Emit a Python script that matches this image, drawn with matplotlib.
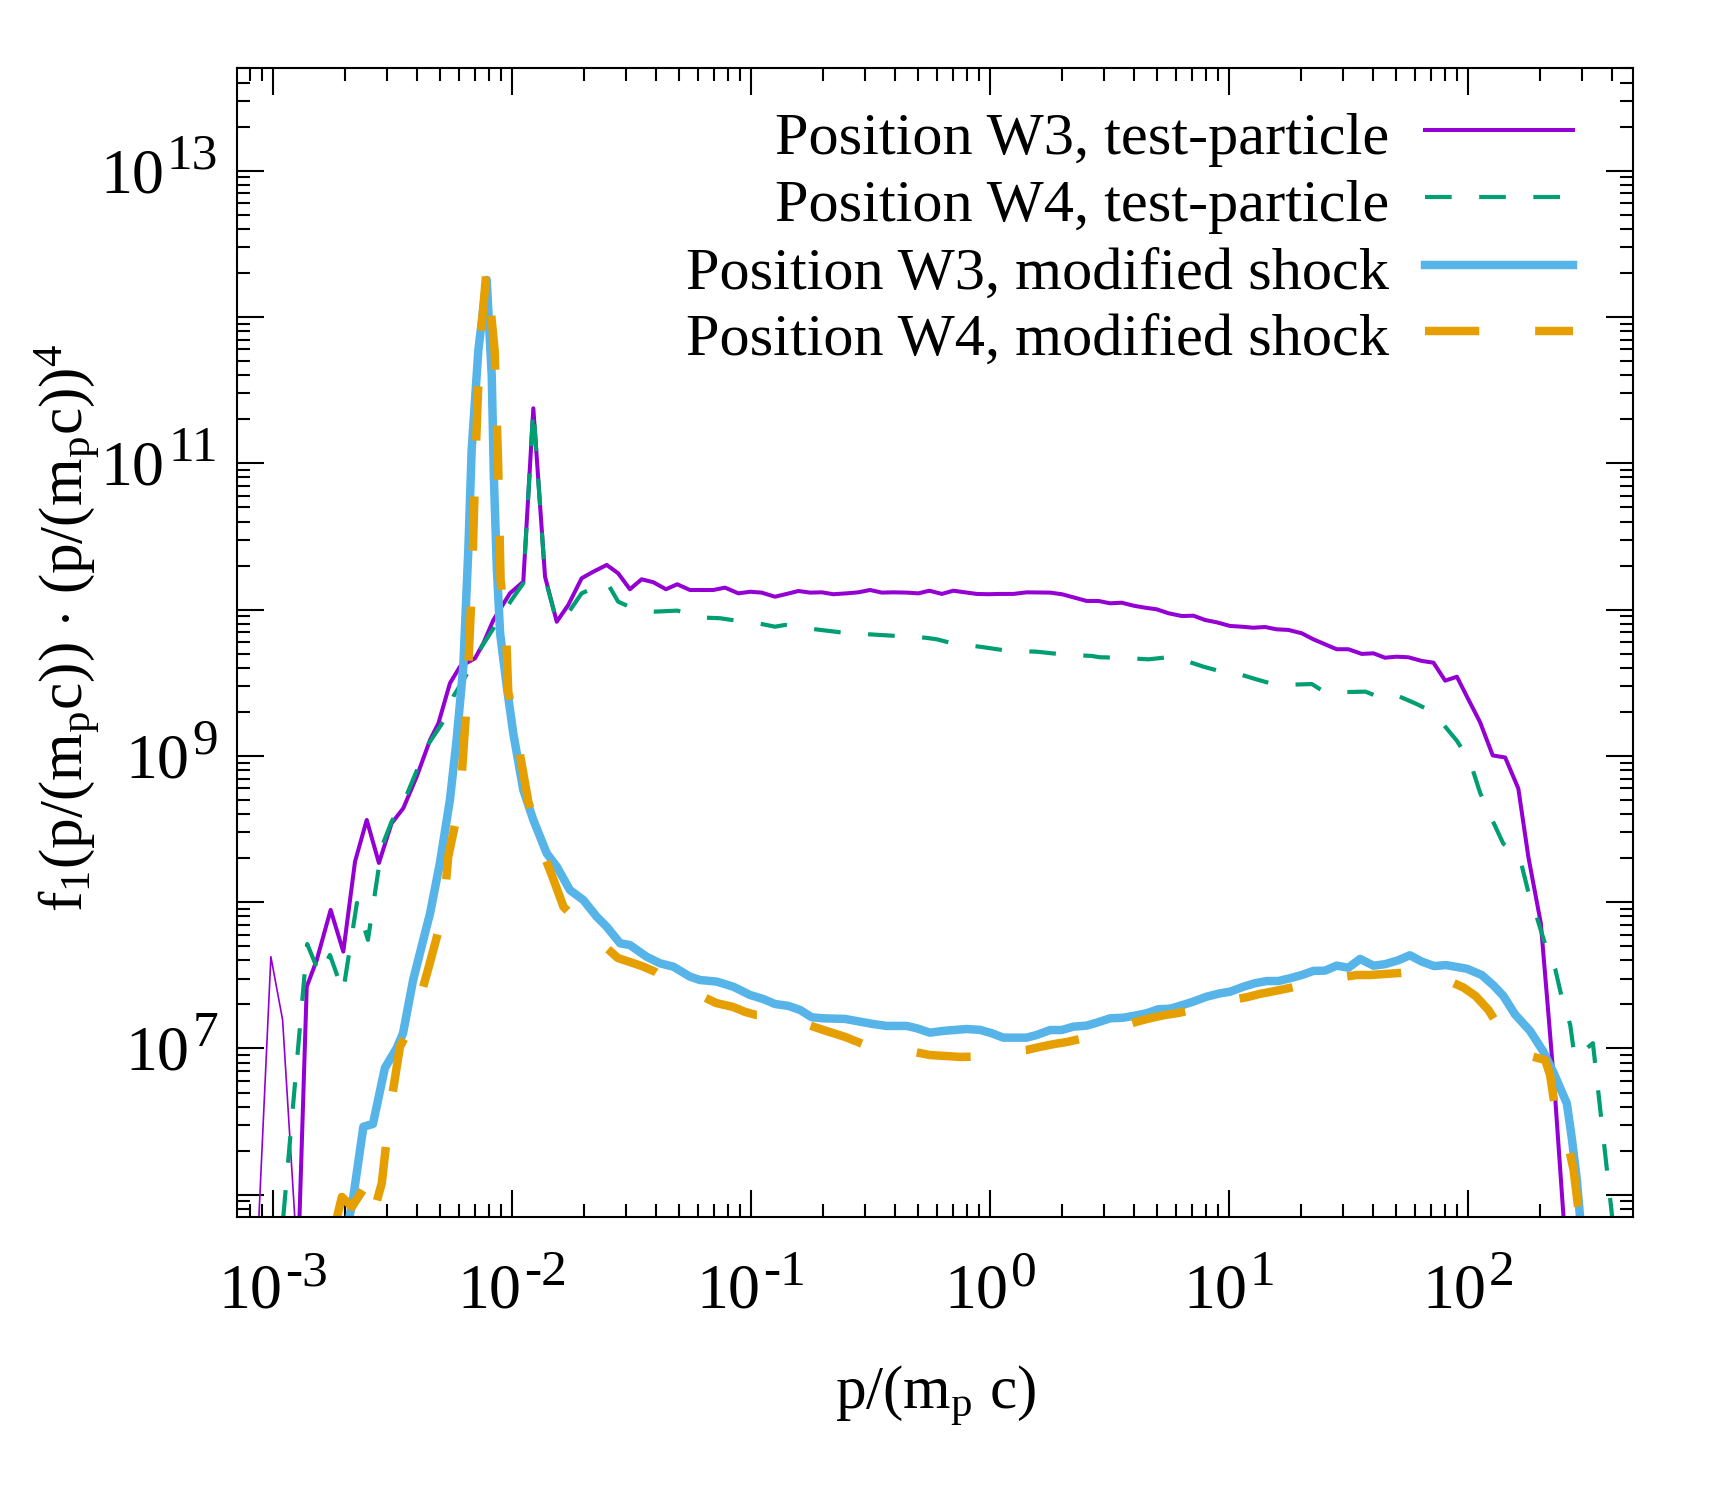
import numpy as np
import matplotlib
matplotlib.use('Agg')
import matplotlib.pyplot as plt
from matplotlib.lines import Line2D
from matplotlib.ticker import FixedLocator, LogLocator, NullFormatter

plt.rcParams['font.family'] = ['Liberation Serif', 'DejaVu Serif']
plt.rcParams['mathtext.fontset'] = 'custom'
plt.rcParams['mathtext.rm'] = 'Liberation Serif'
plt.rcParams['mathtext.it'] = 'Liberation Serif:italic'
plt.rcParams['mathtext.bf'] = 'Liberation Serif:bold'

# values, as log10(p/(m_p c)) and log10(f1 * p^4)
w3_tp_logp = [-3.07, -3.010, -2.961, -2.897, -2.860, -2.818, -2.760, -2.707, -2.658, -2.609,
              -2.558, -2.505, -2.456, -2.400, -2.344, -2.309, -2.261, -2.219, -2.156, -2.121,
              -2.079, -2.010, -1.954, -1.912, -1.863, -1.814, -1.766, -1.710, -1.661, -1.605,
              -1.557, -1.508, -1.459, -1.410, -1.357, -1.310, -1.257, -1.159, -1.110, -1.054,
              -1.004, -0.957, -0.901, -0.852, -0.803, -0.754, -0.705, -0.657, -0.601, -0.552,
              -0.503, -0.454, -0.406, -0.350, -0.301, -0.255, -0.203, -0.155, -0.106, -0.057,
              -0.008, 0.040, 0.096, 0.153, 0.250, 0.299, 0.347, 0.403, 0.452, 0.501,
              0.550, 0.598, 0.647, 0.696, 0.745, 0.801, 0.850, 0.898, 0.947, 1.003,
              1.052, 1.100, 1.149, 1.198, 1.247, 1.303, 1.351, 1.400, 1.449, 1.498,
              1.554, 1.603, 1.651, 1.700, 1.749, 1.805, 1.854, 1.903, 1.952, 2.000,
              2.049, 2.102, 2.154, 2.209, 2.251, 2.303, 2.335, 2.363, 2.398, 2.43]
w3_tp_logf = [5.50, 7.627, 7.196, 5.50, 7.422, 7.605, 7.947, 7.662, 8.277, 8.562,
              8.268, 8.539, 8.642, 8.858, 9.109, 9.223, 9.496, 9.610, 9.667, 9.770,
              9.929, 10.111, 10.191, 11.376, 10.225, 9.917, 10.031, 10.214, 10.259, 10.305,
              10.248, 10.139, 10.207, 10.187, 10.139, 10.173, 10.134, 10.134, 10.150, 10.111,
              10.122, 10.116, 10.088, 10.107, 10.127, 10.116, 10.118, 10.105, 10.111, 10.118,
              10.134, 10.116, 10.118, 10.116, 10.111, 10.129, 10.107, 10.129, 10.118, 10.107,
              10.105, 10.107, 10.107, 10.118, 10.116, 10.105, 10.084, 10.059, 10.059, 10.043,
              10.047, 10.027, 10.013, 10.002, 9.975, 9.956, 9.958, 9.929, 9.913, 9.888,
              9.883, 9.876, 9.881, 9.865, 9.861, 9.838, 9.797, 9.763, 9.729, 9.729,
              9.697, 9.701, 9.671, 9.678, 9.674, 9.649, 9.637, 9.514, 9.541, 9.386,
              9.230, 9.003, 8.989, 8.777, 8.309, 7.857, 7.233, 6.667, 5.85, 5.3]
n_thin = 4  # first points of this curve are drawn with a thin pen

w4_tp_logp = [-2.958, -2.858, -2.805, -2.763, -2.708, -2.650, -2.604, -2.545, -2.505, -2.442,
              -2.358, -2.289, -2.247, -2.188, -2.128, -2.079, -2.003, -1.954, -1.912, -1.863,
              -1.814, -1.772, -1.710, -1.605, -1.557, -1.508, -1.459, -1.402, -1.310, -1.257,
              -1.198, -1.131, -1.082, -0.971, -0.901, -0.859, -0.741, -0.629, -0.507, -0.395,
              -0.273, -0.224, -0.161, -0.043, 0.070, 0.195, 0.299, 0.424, 0.459, 0.536,
              0.661, 0.766, 0.891, 0.954, 0.996, 1.113, 1.183, 1.222, 1.345, 1.400,
              1.449, 1.570, 1.611, 1.680, 1.783, 1.825, 1.874, 1.952, 2.007, 2.049,
              2.091, 2.146, 2.202, 2.223, 2.251, 2.286, 2.321, 2.363, 2.391, 2.426,
              2.445, 2.521, 2.617]
w4_tp_logf = [5.85, 7.714, 7.503, 7.639, 7.386, 7.995, 7.742, 8.383, 8.550, 8.732,
              9.063, 9.234, 9.405, 9.565, 9.746, 9.872, 10.066, 10.180, 11.376, 10.215,
              9.917, 9.963, 10.111, 10.189, 10.054, 10.018, 9.997, 9.986, 9.993, 9.970,
              9.945, 9.941, 9.929, 9.906, 9.883, 9.895, 9.867, 9.845, 9.831, 9.820,
              9.808, 9.797, 9.770, 9.746, 9.719, 9.712, 9.694, 9.683, 9.674, 9.671,
              9.660, 9.678, 9.610, 9.582, 9.582, 9.523, 9.491, 9.485, 9.491, 9.435,
              9.435, 9.439, 9.412, 9.428, 9.355, 9.321, 9.257, 9.103, 8.961, 8.748,
              8.593, 8.400, 8.332, 8.253, 8.068, 7.899, 7.714, 7.545, 7.347, 7.162,
              6.935, 7.036, 5.62]

w3_ms_logp = [-2.70, -2.667, -2.623, -2.583, -2.533, -2.484, -2.457, -2.415, -2.378, -2.344,
              -2.303, -2.261, -2.233, -2.205, -2.184, -2.170, -2.142, -2.107, -2.086, -2.077,
              -2.065, -2.051, -2.023, -1.996, -1.954, -1.912, -1.856, -1.814, -1.759, -1.703,
              -1.647, -1.605, -1.549, -1.508, -1.438, -1.382, -1.326, -1.257, -1.215, -1.145,
              -1.075, -1.006, -0.950, -0.901, -0.845, -0.796, -0.747, -0.699, -0.608, -0.545,
              -0.490, -0.434, -0.350, -0.308, -0.253, -0.197, -0.099, -0.043, 0.006, 0.054,
              0.152, 0.194, 0.250, 0.299, 0.347, 0.403, 0.445, 0.501, 0.556, 0.613,
              0.654, 0.703, 0.752, 0.801, 0.849, 0.905, 0.961, 1.003, 1.059, 1.107,
              1.157, 1.205, 1.254, 1.303, 1.351, 1.400, 1.449, 1.498, 1.547, 1.603,
              1.651, 1.707, 1.755, 1.805, 1.857, 1.906, 1.994, 2.056, 2.105, 2.146,
              2.195, 2.258, 2.314, 2.356, 2.412, 2.433, 2.454, 2.467, 2.48]
w3_ms_logf = [5.70, 5.965, 6.465, 6.484, 6.867, 7.001, 7.105, 7.467, 7.707, 7.924,
              8.266, 8.699, 9.109, 9.610, 10.407, 11.091, 11.774, 12.253, 11.6, 10.9,
              10.293, 9.838, 9.473, 9.155, 8.767, 8.562, 8.334, 8.243, 8.083, 8.015,
              7.901, 7.832, 7.719, 7.707, 7.627, 7.582, 7.559, 7.491, 7.468, 7.457,
              7.422, 7.366, 7.338, 7.304, 7.291, 7.263, 7.213, 7.206, 7.202, 7.183,
              7.167, 7.154, 7.154, 7.138, 7.108, 7.120, 7.133, 7.127, 7.104, 7.074,
              7.074, 7.092, 7.126, 7.126, 7.149, 7.156, 7.176, 7.206, 7.210, 7.227,
              7.241, 7.268, 7.272, 7.295, 7.320, 7.354, 7.377, 7.388, 7.422, 7.446,
              7.461, 7.461, 7.480, 7.502, 7.530, 7.532, 7.566, 7.552, 7.612, 7.566,
              7.576, 7.603, 7.637, 7.594, 7.563, 7.570, 7.545, 7.502, 7.431, 7.360,
              7.233, 7.120, 6.978, 6.836, 6.624, 6.383, 6.100, 5.85, 5.55]

w4_ms_logp = [-2.733, -2.713, -2.671, -2.625, -2.591, -2.546, -2.512, -2.470, -2.414, -2.351,
              -2.289, -2.268, -2.219, -2.190, -2.169, -2.154, -2.137, -2.107, -2.074, -2.059,
              -2.049, -2.026, -2.017, -1.975, -1.933, -1.870, -1.830, -1.786, -1.759, -1.710,
              -1.619, -1.558, -1.508, -1.459, -1.403, -1.361, -1.270, -1.208, -1.148, -1.077,
              -1.026, -0.980, -0.908, -0.852, -0.810, -0.762, -0.700, -0.608, -0.534, -0.475,
              -0.406, -0.350, -0.311, -0.253, -0.190, -0.127, -0.071, 0.0, 0.049, 0.103,
              0.152, 0.206, 0.269, 0.323, 0.389, 0.501, 0.613, 0.672, 0.731, 0.785,
              0.843, 0.905, 0.975, 1.072, 1.128, 1.191, 1.254, 1.303, 1.351, 1.407,
              1.470, 1.533, 1.588, 1.651, 1.714, 1.768, 1.803, 1.852, 1.924, 1.979,
              2.030, 2.084, 2.133, 2.188, 2.258, 2.321, 2.342, 2.370, 2.405, 2.440,
              2.476]
w4_ms_logf = [5.85, 5.985, 5.917, 6.033, 5.814, 6.079, 6.580, 7.012, 7.183, 7.548,
              7.924, 8.311, 8.687, 9.382, 10.168, 11.023, 11.774, 12.333, 11.774, 10.988,
              10.202, 9.847, 9.439, 9.075, 8.687, 8.334, 8.165, 7.969, 7.924, 7.856,
              7.707, 7.618, 7.591, 7.564, 7.525, 7.480, 7.422, 7.359, 7.311, 7.284,
              7.250, 7.229, 7.229, 7.183, 7.183, 7.161, 7.127, 7.079, 7.031, 7.012,
              6.985, 6.985, 6.974, 6.955, 6.949, 6.942, 6.944, 6.944, 6.955, 6.985,
              6.990, 7.010, 7.031, 7.045, 7.070, 7.126, 7.183, 7.208, 7.229, 7.242,
              7.263, 7.282, 7.320, 7.350, 7.373, 7.393, 7.414, 7.434, 7.441, 7.473,
              7.487, 7.502, 7.502, 7.509, 7.516, 7.525, 7.532, 7.525, 7.457, 7.417,
              7.359, 7.263, 7.134, 7.063, 6.949, 6.921, 6.818, 6.511, 6.439, 6.171,
              5.69]

labels = ['Position W3, test-particle', 'Position W4, test-particle',
          'Position W3, modified shock', 'Position W4, modified shock']
x_tick_exp = [-3, -2, -1, 0, 1, 2]
y_tick_exp = [6, 7, 8, 9, 10, 11, 12, 13]
y_label_exp = [7, 9, 11, 13]

purple, green, blue, orange = '#9400D3', '#009E73', '#56B4E9', '#E69F00'
W, H = 1725, 1500
FS = 44            # label / legend text size (pt)
TFS, SFS = 46, 37  # tick "10" and its superscript (pt)
GAP = 2            # space between "10" and the superscript (pt)

fig = plt.figure(figsize=(W / 100, H / 100), dpi=100)
ax = fig.add_axes([236.7 / W, 1 - 1216.7 / H, (1633.3 - 236.7) / W, (1216.7 - 68.3) / H])

def P(a):
    return 10 ** np.asarray(a)

ax.plot(P(w3_tp_logp[:n_thin]), P(w3_tp_logf[:n_thin]), color=purple, lw=1.2)
ax.plot(P(w3_tp_logp[n_thin - 1:]), P(w3_tp_logf[n_thin - 1:]), color=purple, lw=2.9)
ax.plot(P(w4_tp_logp), P(w4_tp_logf), color=green, lw=3.0, dashes=(6.4, 6.6))
ax.plot(P(w3_ms_logp), P(w3_ms_logf), color=blue, lw=6.1)
ax.plot(P(w4_ms_logp), P(w4_ms_logf), color=orange, lw=6.1, dashes=(6.4, 6.6))

ax.set_xscale('log')
ax.set_yscale('log')
ax.set_xlim(10 ** -3.153, 10 ** 2.690)
ax.set_ylim(10 ** 5.85, 10 ** 13.70)

ax.xaxis.set_major_locator(FixedLocator([10.0 ** e for e in x_tick_exp]))
ax.yaxis.set_major_locator(FixedLocator([10.0 ** e for e in y_tick_exp]))
ax.xaxis.set_minor_locator(LogLocator(base=10, subs=np.arange(2, 10), numticks=100))
ax.yaxis.set_minor_locator(LogLocator(base=10, subs=np.arange(2, 10), numticks=100))
for axis in (ax.xaxis, ax.yaxis):
    axis.set_major_formatter(NullFormatter())
    axis.set_minor_formatter(NullFormatter())

ax.tick_params(which='both', direction='in', top=True, right=True, width=1.5)
ax.tick_params(which='major', length=19.4)
ax.tick_params(which='minor', length=9.4)
for sp in ax.spines.values():
    sp.set_linewidth(1.5)

# tick labels in gnuplot style: "10" plus a larger superscript with a plain hyphen
def exp_width(s):
    return sum(0.333 if c == '-' else 0.5 for c in s) * SFS

for e in x_tick_exp:
    es = str(e)
    x0 = -(TFS + GAP + exp_width(es)) / 2 + TFS
    kw = dict(xy=(10.0 ** e, 0), xycoords=('data', 'axes fraction'),
              textcoords='offset points', va='baseline', annotation_clip=False)
    ax.annotate('10', xytext=(x0, -65.7), ha='right', fontsize=TFS, **kw)
    ax.annotate(es, xytext=(x0 + GAP, -49.2), ha='left', fontsize=SFS, **kw)

for e in y_label_exp:
    es = str(e)
    kw = dict(xy=(0, 10.0 ** e), xycoords=('axes fraction', 'data'),
              textcoords='offset points', va='baseline', ha='right', annotation_clip=False)
    ax.annotate(es, xytext=(-13.5, 1.9), fontsize=SFS, **kw)
    ax.annotate('10', xytext=(-13.5 - GAP - exp_width(es), -15.5), fontsize=TFS, **kw)

fig.text(935 / W, 1 - 1396 / H, r'p/(m$_\mathrm{p}$ c)', ha='center', va='center', fontsize=FS)
fig.text(68 / W, 1 - 628 / H, r'f$_1$(p/(m$_\mathrm{p}$c)) $\cdot$ (p/(m$_\mathrm{p}$c))$^4$',
         ha='center', va='center', rotation=90, fontsize=FS)

# legend drawn by hand: text right aligned, sample on the right
styles = [dict(color=purple, lw=2.9), dict(color=green, lw=3.0, dashes=(6.4, 6.6)),
          dict(color=blue, lw=6.1), dict(color=orange, lw=6.1, dashes=(6.4, 6.6))]
rows_y = [129.8, 196.9, 265.1, 331.1]
for lab, st, yr in zip(labels, styles, rows_y):
    fig.add_artist(Line2D([1424.5 / W, 1573 / W], [1 - yr / H, 1 - yr / H],
                          transform=fig.transFigure, **st))
    fig.text(1389 / W, 1 - (yr + 24) / H, lab, ha='right', va='baseline', fontsize=43.5)

fig.savefig('out.png', dpi=100)
